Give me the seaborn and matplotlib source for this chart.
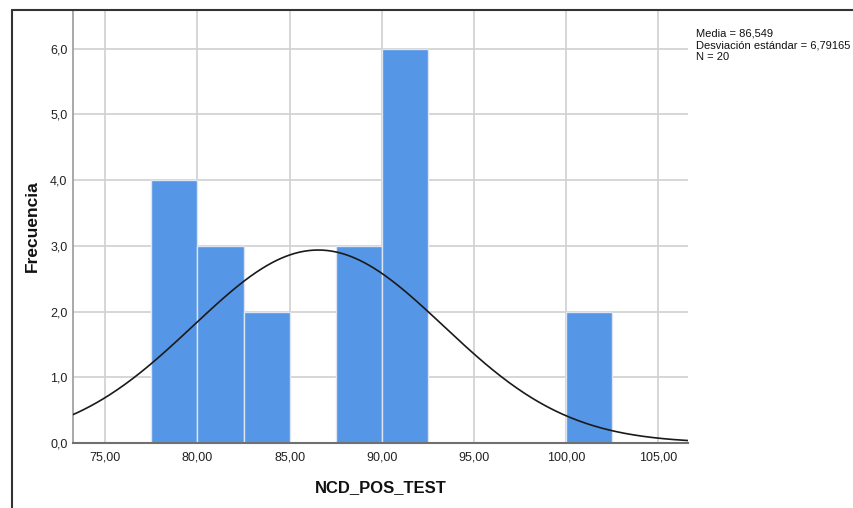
import numpy as np
import pandas as pd
import matplotlib
matplotlib.use("Agg")
import matplotlib.pyplot as plt
import seaborn as sns
from matplotlib.lines import Line2D

# ---- data ----
bin_edges = [77.5, 80.0, 82.5, 85.0, 87.5, 90.0, 92.5, 95.0, 97.5, 100.0, 102.5]
counts = [4, 3, 2, 0, 3, 6, 0, 0, 0, 2]
mean_val = 86.549
sd_val = 6.79165
n_val = 20
x_ticks = [75, 80, 85, 90, 95, 100, 105]
x_tick_labels = ["75,00", "80,00", "85,00", "90,00", "95,00", "100,00", "105,00"]
y_ticks = [0, 1, 2, 3, 4, 5, 6]
y_tick_labels = ["0,0", "1,0", "2,0", "3,0", "4,0", "5,0", "6,0"]

sns.set_theme(style="white")
plt.rcParams['font.family'] = ['Liberation Sans', 'DejaVu Sans']

fig = plt.figure(figsize=(8.54, 5.08), dpi=100)
ax = fig.add_axes([73/854, 1-443/508, (688-73)/854, (443-10)/508])

centers = [(bin_edges[i] + bin_edges[i+1]) / 2 for i in range(len(counts))]
df = pd.DataFrame({"x": centers, "w": counts})
sns.histplot(data=df, x="x", weights="w", bins=bin_edges, ax=ax,
             color="#5596E6", alpha=1, edgecolor="#dde6f0", linewidth=1.0, zorder=2)

# normal curve
bw = bin_edges[1] - bin_edges[0]
xs = np.linspace(73.2, 106.7, 400)
ys = n_val * bw / (sd_val * np.sqrt(2 * np.pi)) * np.exp(-0.5 * ((xs - mean_val) / sd_val) ** 2)
ax.plot(xs, ys, color="#1a1a1a", lw=1.2, zorder=3)

ax.set_xlim(73.25, 106.6)
ax.set_ylim(0, 6.59)
ax.set_xticks(x_ticks)
ax.set_xticklabels(x_tick_labels, fontsize=9, color="#222222")
ax.set_yticks(y_ticks)
ax.set_yticklabels(y_tick_labels, fontsize=9, color="#222222")
ax.tick_params(axis='y', length=0, pad=4)
ax.tick_params(axis='x', length=0, pad=6)
ax.grid(True, color="#d0d0d0", lw=1.2, zorder=0)
ax.set_axisbelow(True)
for s in ["top", "right"]:
    ax.spines[s].set_visible(False)
ax.spines["left"].set_color("#9a9a9a")
ax.spines["bottom"].set_color("#707070")
ax.spines["left"].set_linewidth(1.2)
ax.spines["bottom"].set_linewidth(1.5)

ax.set_xlabel("NCD_POS_TEST", fontsize=12, fontweight="bold", labelpad=12, color="#111111")
ax.set_ylabel("Frecuencia", fontsize=12.5, fontweight="bold", labelpad=7, color="#111111")

fig.text(696/854, 1-45/508,
         "Media = 86,549\nDesviación estándar = 6,79165\nN = 20",
         fontsize=8, va="center", ha="left", linespacing=1.25, color="#111111")

# outer frame
fig.add_artist(Line2D([12/854, 1], [1-10/508, 1-10/508], color="#333333", lw=1.5, transform=fig.transFigure))
fig.add_artist(Line2D([12/854, 12/854], [0, 1-10/508], color="#333333", lw=1.5, transform=fig.transFigure))

fig.savefig("out.png", dpi=100)
